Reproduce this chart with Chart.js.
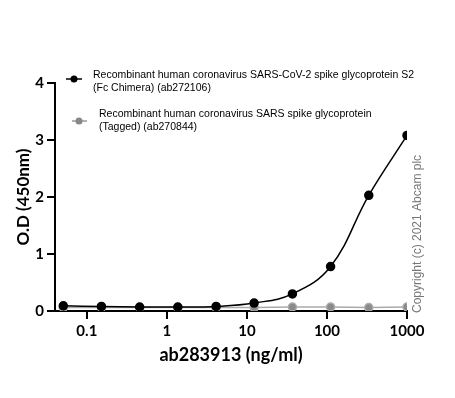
<!DOCTYPE html>
<html>
<head>
<meta charset="utf-8">
<script src="https://cdn.jsdelivr.net/npm/chart.js@4/dist/chart.umd.min.js"></script>
<style>
  html, body { margin: 0; padding: 0; background: #fff; }
  #wrap { width: 455px; height: 398px; }
</style>
</head>
<body>
<div id="wrap"><canvas id="myChart" width="455" height="398"></canvas></div>
<script>
// data
const concentrations = [0.0508, 0.152, 0.457, 1.37, 4.12, 12.3, 37, 111, 333, 1000];
const sarsCov2S2 = [0.09, 0.08, 0.07, 0.07, 0.08, 0.14, 0.30, 0.78, 2.03, 3.08];
const sarsTagged = [0.06, 0.06, 0.06, 0.06, 0.06, 0.06, 0.07, 0.07, 0.06, 0.07];
const xTicks = [0.1, 1, 10, 100, 1000];
const yTicks = [0, 1, 2, 3, 4];
const legendLabels = [
  ['Recombinant human coronavirus SARS-CoV-2 spike glycoprotein S2', '(Fc Chimera) (ab272106)'],
  ['Recombinant human coronavirus SARS spike glycoprotein', '(Tagged) (ab270844)']
];

const tickFont = { family: 'Lato', size: 15, weight: 'bold' };

// legend + copyright drawn by hand
const extras = {
  id: 'extras',
  afterDraw(chart) {
    const ctx = chart.ctx;
    ctx.save();
    ctx.font = '10.5px "Liberation Sans"';
    ctx.textBaseline = 'middle';
    ctx.textAlign = 'left';
    // entry 1
    ctx.strokeStyle = '#000'; ctx.fillStyle = '#000'; ctx.lineWidth = 1.5;
    ctx.beginPath(); ctx.moveTo(66, 79); ctx.lineTo(82, 79); ctx.stroke();
    ctx.beginPath(); ctx.arc(74, 79, 3.5, 0, Math.PI * 2); ctx.fill();
    ctx.fillText(legendLabels[0][0], 93, 75);
    ctx.fillText(legendLabels[0][1], 93, 88);
    // entry 2
    ctx.strokeStyle = '#999'; ctx.fillStyle = '#888';
    ctx.beginPath(); ctx.moveTo(72, 121); ctx.lineTo(87, 121); ctx.stroke();
    ctx.beginPath(); ctx.arc(79, 121, 3.5, 0, Math.PI * 2); ctx.fill();
    ctx.fillStyle = '#000';
    ctx.fillText(legendLabels[1][0], 99, 114);
    ctx.fillText(legendLabels[1][1], 99, 127);
    // copyright
    ctx.translate(418, 313);
    ctx.rotate(-Math.PI / 2);
    ctx.fillStyle = '#777';
    ctx.font = '12px "Liberation Sans"';
    ctx.fillText('Copyright (c) 2021 Abcam plc', 0, 0);
    ctx.restore();
  }
};

const data = {
  datasets: [{
    label: 'S2',
    data: concentrations.map((c, i) => ({ x: c, y: sarsCov2S2[i] })),
    borderColor: '#000',
    backgroundColor: '#000',
    borderWidth: 1.5,
    pointRadius: 4,
    tension: 0.4,
    order: 1
  },
  {
    label: 'Tagged',
    data: concentrations.map((c, i) => ({ x: c, y: sarsTagged[i] })),
    borderColor: '#aaa',
    backgroundColor: '#8a8a8a',
    borderWidth: 1.5,
    pointRadius: 4,
    order: 2
  }]
};

const config = {
  type: 'line',
  data: data,
  options: {
    responsive: false,
    animation: false,
    layout: { padding: { top: 83, right: 48, bottom: 32, left: 13 } },
    plugins: {
      legend: { display: false },
      tooltip: { enabled: false }
    },
    scales: {
      x: {
        type: 'logarithmic',
        min: 0.04,
        max: 1000,
        afterBuildTicks: axis => { axis.ticks = xTicks.map(v => ({ value: v })); },
        afterFit: axis => { axis.height = 55; },
        ticks: {
          color: '#000', font: tickFont, padding: 3, maxRotation: 0,
          callback: v => String(v)
        },
        grid: { drawOnChartArea: false, drawTicks: true, tickLength: 8, color: '#000', lineWidth: 2 },
        border: { color: '#000', width: 2 },
        title: {
          display: true, text: 'ab283913 (ng/ml)', color: '#000',
          font: { family: 'Lato', size: 18, weight: 'bold' }, padding: 0
        }
      },
      y: {
        min: 0,
        max: 4,
        afterBuildTicks: axis => { axis.ticks = yTicks.map(v => ({ value: v })); },
        afterFit: axis => { axis.width = 42; },
        ticks: { color: '#000', font: tickFont, padding: 3 },
        grid: { drawOnChartArea: false, drawTicks: true, tickLength: 8, color: '#000', lineWidth: 2 },
        border: { color: '#000', width: 2 },
        title: {
          display: true, text: 'O.D (450nm)', color: '#000',
          font: { family: 'Lato', size: 17, weight: 'bold' }, padding: 0
        }
      }
    }
  },
  plugins: [extras]
};

const myChart = new Chart(document.getElementById('myChart'), config);
</script>
</body>
</html>
